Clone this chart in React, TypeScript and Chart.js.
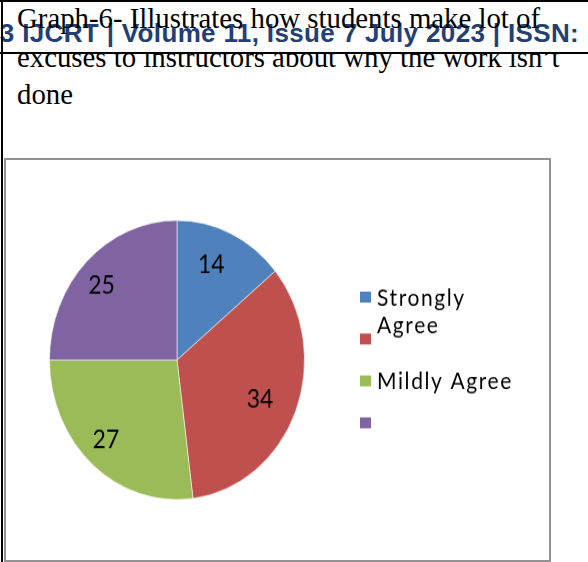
import React, { useEffect, useRef } from "react";
import { Chart, registerables } from "chart.js";

Chart.register(...registerables);

// ---------- data ----------
const categories = ["Strongly Agree", "", "Mildly Agree", ""];
const values = [14, 34, 27, 25];
const sliceColors = ["#4F81BD", "#C0504D", "#9BBB59", "#8064A2"];
const captionLines = [
  "Graph-6- Illustrates how students make lot of",
  "excuses to instructors about why the work isn\u2019t",
  "done",
];
const headerText = "23 IJCRT | Volume 11, Issue 7 July 2023 | ISSN:";

// ---------- layout ----------
const CANVAS_W = 547;
const CANVAS_H = 369;
const CSS_H = 404;

const wrapText = (ctx: CanvasRenderingContext2D, text: string, maxW: number) => {
  if (!text) return [] as string[];
  const words = text.split(" ");
  const lines: string[] = [];
  let cur = "";
  words.forEach((w) => {
    const test = cur ? cur + " " + w : w;
    if (cur && ctx.measureText(test).width > maxW) {
      lines.push(cur);
      cur = w;
    } else cur = test;
  });
  if (cur) lines.push(cur);
  return lines;
};

const sliceLabelPlugin = {
  id: "sliceLabels",
  afterDatasetsDraw(chart: any) {
    const ctx = chart.ctx as CanvasRenderingContext2D;
    const meta = chart.getDatasetMeta(0);
    const fs = 23;
    ctx.save();
    ctx.font = `${fs}px Lato`;
    ctx.fillStyle = "#000";
    ctx.textAlign = "center";
    ctx.textBaseline = "alphabetic";
    meta.data.forEach((arc: any, i: number) => {
      const p = arc.getProps(["x", "y", "startAngle", "endAngle", "outerRadius"], true);
      const mid = (p.startAngle + p.endAngle) / 2;
      const r = p.outerRadius * 0.76;
      const v = chart.data.datasets[0].data[i];
      ctx.fillText(String(v), p.x + Math.cos(mid) * r - 7, p.y + Math.sin(mid) * r + fs * 0.36);
    });
    ctx.restore();
  },
};

const sideLegendPlugin = {
  id: "sideLegend",
  afterDraw(chart: any) {
    const ctx = chart.ctx as CanvasRenderingContext2D;
    const ds = chart.data.datasets[0];
    const x0 = 356;
    const y0 = 127;
    const step = 38.3;
    ctx.save();
    ctx.font = "21px Lato";
    (ctx as any).letterSpacing = "1.6px";
    ctx.textAlign = "left";
    ctx.textBaseline = "alphabetic";
    chart.data.labels.forEach((lab: string, i: number) => {
      const cy = y0 + i * step;
      ctx.fillStyle = ds.backgroundColor[i];
      ctx.fillRect(x0, cy - 5, 11, 10);
      ctx.fillStyle = "#000";
      const lines = wrapText(ctx, lab, 150);
      lines.forEach((ln, j) => ctx.fillText(ln, x0 + 17, cy + 7.5 + j * 25));
    });
    ctx.restore();
  },
};

function PieChart() {
  const ref = useRef<HTMLCanvasElement | null>(null);
  useEffect(() => {
    if (!ref.current) return;
    const chart = new Chart(ref.current, {
      type: "pie",
      data: {
        labels: categories,
        datasets: [
          {
            data: values,
            backgroundColor: sliceColors,
            borderColor: "rgba(255,255,255,0.55)",
            borderWidth: 1,
            hoverBorderWidth: 1,
            hoverOffset: 0,
          },
        ],
      },
      options: {
        responsive: false,
        animation: false,
        events: [],
        layout: { padding: { left: 45, right: 246, top: 56.5, bottom: 56.5 } },
        plugins: {
          legend: { display: false },
          tooltip: { enabled: false },
        },
      },
      plugins: [sliceLabelPlugin, sideLegendPlugin],
    });
    return () => chart.destroy();
  }, []);
  return (
    <canvas
      ref={ref}
      width={CANVAS_W}
      height={CANVAS_H}
      style={{ position: "absolute", left: 4, top: 158, width: CANVAS_W, height: CSS_H }}
    />
  );
}

export default function App() {
  const fs = 28.8;
  const base = (fs - fs * 1.107) / 2 + fs * 0.891;
  const serif: React.CSSProperties = {
    position: "absolute",
    left: 17,
    fontFamily: "'Liberation Serif', 'Times New Roman', serif",
    fontSize: fs,
    lineHeight: `${fs}px`,
    whiteSpace: "nowrap",
    color: "#000",
    transformOrigin: `0 ${base}px`,
    transform: "scaleY(1.05)",
  };
  return (
    <div
      style={{
        position: "absolute",
        left: 0,
        top: 0,
        width: 588,
        height: 562,
        overflow: "hidden",
        background: "#fff",
      }}
    >
      {/* line 2, clipped under header band */}
      <div style={{ position: "absolute", left: 0, top: 54, width: 588, height: 40, overflow: "hidden" }}>
        <div style={{ ...serif, top: 66.7 - base - 54 }}>{captionLines[1]}</div>
      </div>
      <div style={{ ...serif, top: 104 - base }}>{captionLines[2]}</div>
      {/* header */}
      <div
        style={{
          position: "absolute",
          left: -15,
          top: 20.3,
          fontFamily: "'Liberation Sans', Arial, sans-serif",
          fontWeight: "bold",
          fontSize: 26,
          lineHeight: "26px",
          letterSpacing: "0.35px",
          whiteSpace: "nowrap",
          color: "#243f74",
        }}
      >
        {headerText}
      </div>
      <div style={{ ...serif, top: 28.3 - base }}>{captionLines[0]}</div>
      {/* black rules */}
      <div style={{ position: "absolute", left: 0, top: 0, width: 588, height: 2, background: "#000" }} />
      <div style={{ position: "absolute", left: 0, top: 52, width: 588, height: 2, background: "#000" }} />
      <div style={{ position: "absolute", left: 1, top: 0, width: 2, height: 562, background: "#000" }} />
      {/* chart frame */}
      <div
        style={{
          position: "absolute",
          left: 4,
          top: 158,
          width: 547,
          height: 404,
          boxSizing: "border-box",
          border: "2px solid #929292",
          background: "#fff",
        }}
      />
      <PieChart />
    </div>
  );
}
